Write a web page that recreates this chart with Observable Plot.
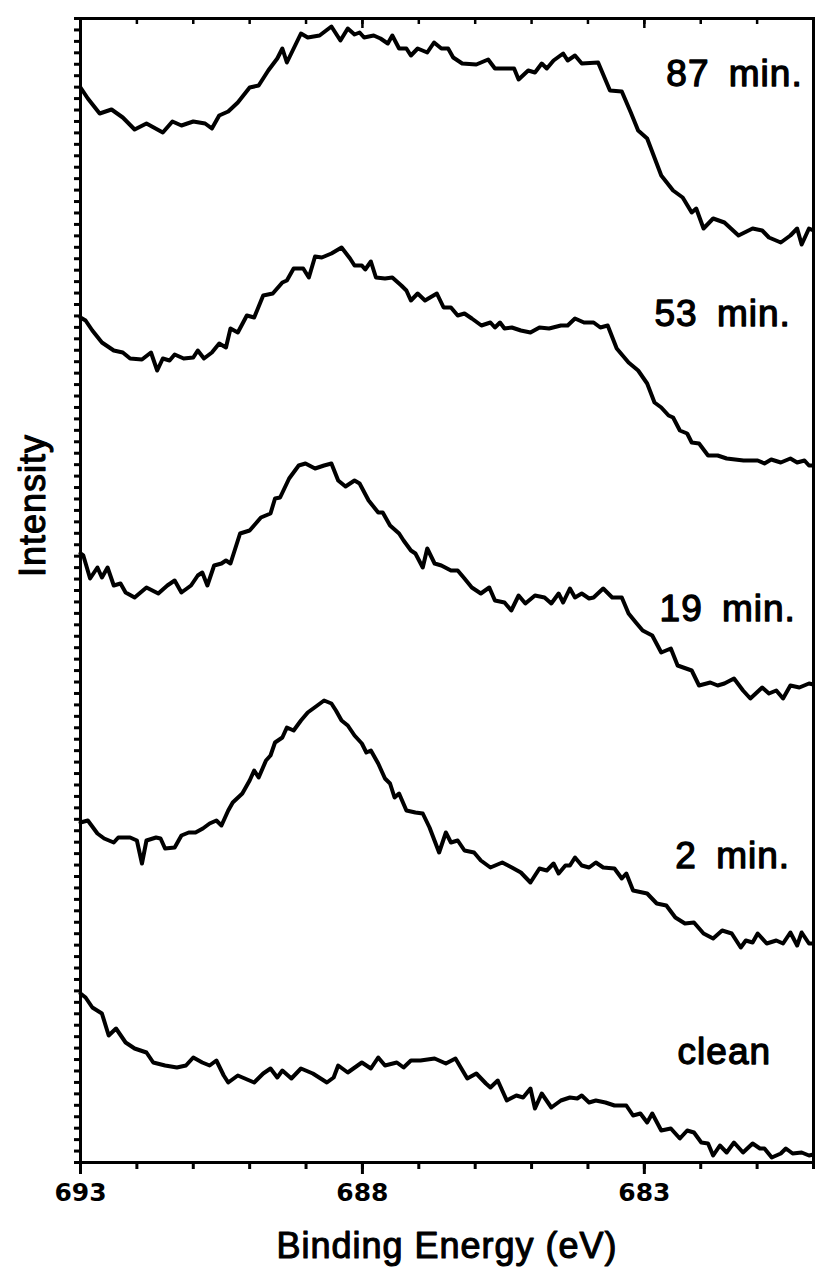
<!DOCTYPE html>
<html>
<head>
<meta charset="utf-8">
<script src="https://cdn.jsdelivr.net/npm/d3@7"></script>
<script src="https://cdn.jsdelivr.net/npm/@observablehq/plot@0.6"></script>
<style>
  html, body { margin: 0; padding: 0; background: #fff; }
  #chart svg { display: block; background: #fff; }
</style>
</head>
<body>
<div id="chart"></div>
<script>
// Each spectrum: [binding energy (eV), intensity (arb. units, stacked offset as drawn)]
const clean = [[693.00,169],[692.91,165],[692.79,155],[692.62,149],[692.50,127],[692.37,134],[692.20,120],[692.04,114],
  [691.83,110],[691.71,100],[691.50,97],[691.29,95],[691.13,97],[691.00,105],[690.84,100],[690.71,97],[690.59,102],
  [690.46,87],[690.38,80],[690.21,87],[689.92,80],[689.76,89],[689.63,94],[689.51,85],[689.42,92],[689.26,84],
  [689.09,94],[688.88,89],[688.63,80],[688.51,85],[688.43,97],[688.26,90],[688.01,100],[687.85,94],[687.72,105],
  [687.60,97],[687.39,100],[687.27,95],[687.14,102],[686.97,102],[686.72,104],[686.52,99],[686.35,104],[686.14,84],
  [685.98,89],[685.81,79],[685.73,75],[685.60,82],[685.44,62],[685.27,67],[685.15,65],[685.02,74],[684.94,54],
  [684.82,69],[684.65,55],[684.48,62],[684.32,65],[684.19,64],[684.11,67],[683.98,60],[683.86,62],[683.69,60],
  [683.53,57],[683.32,57],[683.20,47],[683.07,49],[682.95,40],[682.86,49],[682.70,32],[682.53,34],[682.37,24],
  [682.24,32],[682.12,30],[681.99,20],[681.87,19],[681.78,7],[681.66,17],[681.54,10],[681.41,20],[681.25,10],
  [681.08,19],[680.95,14],[680.87,14],[680.74,5],[680.58,9],[680.49,14],[680.37,9],[680.21,10],[680.08,7],[680.00,8]];

const min2 = [[693.00,340],[692.87,342],[692.70,329],[692.58,324],[692.41,320],[692.33,325],[692.12,325],[692.00,322],
  [691.91,299],[691.83,322],[691.66,325],[691.58,324],[691.50,314],[691.33,315],[691.21,327],[691.08,330],[690.96,330],
  [690.83,334],[690.71,339],[690.59,342],[690.50,337],[690.38,352],[690.30,360],[690.13,369],[690.00,382],[689.92,392],
  [689.84,385],[689.71,402],[689.63,407],[689.55,420],[689.42,425],[689.34,435],[689.22,432],[689.09,442],[688.97,450],
  [688.80,457],[688.68,462],[688.55,459],[688.47,452],[688.37,442],[688.26,437],[688.14,427],[688.01,419],[687.93,410],
  [687.85,412],[687.72,399],[687.60,384],[687.51,379],[687.43,365],[687.35,369],[687.22,352],[687.06,350],[686.93,349],
  [686.81,335],[686.64,310],[686.52,330],[686.43,320],[686.31,322],[686.19,312],[686.02,310],[685.90,302],[685.73,295],
  [685.52,300],[685.35,295],[685.19,290],[685.02,280],[684.86,294],[684.73,292],[684.61,299],[684.52,289],[684.40,297],
  [684.32,297],[684.23,305],[684.11,297],[683.98,295],[683.86,300],[683.73,295],[683.53,294],[683.40,284],[683.32,289],
  [683.20,272],[682.95,269],[682.78,259],[682.61,257],[682.45,245],[682.28,239],[682.12,240],[681.95,229],[681.78,224],
  [681.62,232],[681.45,229],[681.29,215],[681.20,222],[681.08,220],[680.99,229],[680.83,219],[680.66,222],[680.54,219],
  [680.41,230],[680.29,217],[680.21,230],[680.08,219],[680.00,219]];

const min19 = [[693.00,609],[692.95,607],[692.83,584],[692.70,595],[692.62,585],[692.52,595],[692.41,577],[692.29,579],
  [692.20,570],[692.04,565],[691.83,575],[691.62,569],[691.46,577],[691.33,582],[691.21,570],[691.04,577],[690.92,587],
  [690.84,590],[690.75,577],[690.63,597],[690.50,599],[690.42,602],[690.34,599],[690.17,629],[690.00,632],[689.80,645],
  [689.63,649],[689.55,664],[689.46,665],[689.30,684],[689.13,697],[689.01,699],[688.84,694],[688.68,697],[688.55,699],
  [688.43,682],[688.30,676],[688.14,682],[688.05,679],[687.89,662],[687.72,650],[687.64,650],[687.51,637],[687.35,629],
  [687.27,622],[687.14,612],[687.06,609],[686.93,595],[686.85,614],[686.72,599],[686.60,597],[686.43,592],[686.31,592],
  [686.19,584],[686.06,575],[685.90,569],[685.75,575],[685.65,562],[685.48,560],[685.36,552],[685.23,567],[685.11,559],
  [684.94,567],[684.77,565],[684.65,559],[684.52,569],[684.44,560],[684.32,574],[684.23,565],[684.11,569],[683.98,564],
  [683.90,565],[683.73,574],[683.57,565],[683.40,565],[683.28,549],[683.15,540],[683.03,532],[682.86,527],[682.70,510],
  [682.53,514],[682.41,497],[682.16,492],[682.03,477],[681.83,480],[681.70,477],[681.58,479],[681.41,484],[681.25,472],
  [681.12,464],[680.91,475],[680.79,469],[680.66,472],[680.54,464],[680.41,477],[680.25,475],[680.08,479],[680.00,478]];

const min53 = [[693.00,845],[692.91,842],[692.79,832],[692.62,820],[692.41,812],[692.25,810],[692.12,804],[691.91,803],
  [691.75,810],[691.64,792],[691.54,804],[691.42,802],[691.33,808],[691.17,804],[691.00,805],[690.92,812],[690.81,804],
  [690.67,810],[690.54,819],[690.42,815],[690.34,834],[690.21,830],[690.05,847],[689.92,845],[689.76,867],[689.59,869],
  [689.42,880],[689.34,882],[689.22,894],[689.05,894],[688.95,885],[688.84,906],[688.72,905],[688.55,909],[688.37,915],
  [688.22,904],[688.14,897],[688.01,897],[687.95,893],[687.85,901],[687.76,885],[687.60,884],[687.47,885],[687.31,877],
  [687.22,872],[687.14,862],[687.02,869],[686.89,862],[686.68,869],[686.56,855],[686.43,855],[686.31,847],[686.19,849],
  [686.06,844],[685.89,837],[685.73,840],[685.65,835],[685.56,840],[685.48,834],[685.35,835],[685.19,832],[685.02,830],
  [684.86,835],[684.69,834],[684.48,837],[684.36,837],[684.23,844],[684.07,840],[683.90,840],[683.78,835],[683.65,837],
  [683.49,814],[683.28,800],[683.11,792],[682.95,779],[682.82,760],[682.70,755],[682.57,747],[682.49,745],[682.37,732],
  [682.24,729],[682.16,720],[682.03,719],[681.87,707],[681.70,707],[681.54,704],[681.24,702],[680.99,702],[680.87,699],
  [680.75,703],[680.58,700],[680.41,704],[680.29,700],[680.16,702],[680.08,697],[680.00,697]];

const min87 = [[693.00,1075],[692.87,1064],[692.66,1049],[692.45,1053],[692.25,1045],[692.04,1033],[691.83,1039],
  [691.54,1030],[691.37,1041],[691.21,1037],[691.00,1041],[690.79,1039],[690.67,1034],[690.54,1047],[690.38,1051],
  [690.21,1060],[690.00,1075],[689.84,1077],[689.67,1092],[689.51,1104],[689.42,1114],[689.34,1100],[689.09,1129],
  [688.97,1125],[688.76,1127],[688.55,1136],[688.39,1122],[688.26,1134],[688.14,1128],[688.05,1130],[687.97,1125],
  [687.80,1127],[687.68,1124],[687.55,1119],[687.47,1127],[687.35,1114],[687.22,1114],[687.14,1107],[687.02,1114],
  [686.85,1110],[686.73,1120],[686.60,1114],[686.48,1114],[686.39,1105],[686.23,1099],[685.98,1098],[685.77,1103],
  [685.65,1094],[685.44,1094],[685.31,1094],[685.23,1083],[685.06,1092],[684.94,1090],[684.82,1099],[684.73,1094],
  [684.61,1102],[684.44,1109],[684.36,1102],[684.23,1107],[684.11,1099],[683.82,1100],[683.61,1072],[683.40,1071],
  [683.24,1050],[683.11,1032],[682.95,1024],[682.70,987],[682.49,972],[682.32,965],[682.16,950],[682.08,954],
  [681.95,934],[681.78,944],[681.58,940],[681.33,927],[681.08,934],[680.91,932],[680.79,925],[680.58,920],
  [680.41,927],[680.29,934],[680.21,918],[680.08,934],[680.00,932]];

const seriesNames = ["clean", "2 min.", "19 min.", "53 min.", "87 min."];
const seriesData = [clean, min2, min19, min53, min87];
// label anchors (energy, intensity)
const labelEnergy = [682.41, 682.45, 682.73, 682.82, 682.61];
const labelIntensity = [99, 295, 542, 837, 1077];

const xTicks = [693,692,691,690,689,688,687,686,685,684,683,682,681,680];
const xTickLabels = [693, 688, 683];
const yTicks = d3.range(0, 101).map(i => i * 11.44);

const rows = [];
seriesNames.forEach((name, i) => seriesData[i].forEach(([e, v]) => rows.push({series: name, energy: e, intensity: v})));

const chart = Plot.plot({
  width: 815,
  height: 1268,
  marginLeft: 80,
  marginRight: 2,
  marginTop: 18,
  marginBottom: 106,
  style: {background: "#fff", color: "#000"},
  x: {domain: [693, 680], axis: null, label: null},
  y: {domain: [0, 1144], axis: null, label: null},
  marks: [
    Plot.axisY({ticks: yTicks, tickSize: 6, tickFormat: () => "", strokeWidth: 3, label: null}),
    Plot.axisX({ticks: xTicks, tickSize: 7, tickFormat: () => "", strokeWidth: 3, label: null}),
    Plot.axisX({ticks: xTickLabels, tickSize: 12, tickPadding: 9, strokeWidth: 3, label: null,
      tickFormat: d => String(d), fontSize: 25, fontWeight: "bold", fontFamily: "DejaVu Sans"}),
    Plot.axisX({anchor: "top", ticks: xTicks, tickSize: 5, dy: 5, tickFormat: () => "", strokeWidth: 2.5, label: null}),
    Plot.axisX({anchor: "top", ticks: [688, 683], tickSize: 9, dy: 9, tickFormat: () => "", strokeWidth: 2.5, label: null}),
    Plot.frame({strokeWidth: 3}),
    Plot.line(rows, {x: "energy", y: "intensity", z: "series", stroke: "#000", strokeWidth: 4, strokeLinejoin: "round"}),
    Plot.text(seriesNames, {x: (d, i) => labelEnergy[i], y: (d, i) => labelIntensity[i], text: d => d,
      textAnchor: "start", lineAnchor: "bottom", fontSize: 37, fontFamily: "Liberation Sans, Arial, sans-serif",
      fill: "#000", stroke: "#000", strokeWidth: 1.3}),
    Plot.text(["Binding Energy (eV)"], {frameAnchor: "bottom", dy: 95, lineAnchor: "bottom", fontSize: 36,
      fontFamily: "Liberation Sans, Arial, sans-serif", fill: "#000", stroke: "#000", strokeWidth: 1.1}),
    Plot.text(["Intensity"], {frameAnchor: "left", dx: -36, dy: -85, rotate: -90, textAnchor: "middle",
      lineAnchor: "bottom", fontSize: 36, fontFamily: "Liberation Sans, Arial, sans-serif",
      fill: "#000", stroke: "#000", strokeWidth: 1.1})
  ]
});

d3.select(chart).selectAll("text").each(function() {
  const t = this.textContent;
  if (seriesNames.includes(t)) { this.style.letterSpacing = "1px"; this.style.wordSpacing = "8px"; }
  if (t === "Binding Energy (eV)" || t === "Intensity") { this.style.letterSpacing = "1px"; }
});

document.getElementById("chart").appendChild(chart);
</script>
</body>
</html>
